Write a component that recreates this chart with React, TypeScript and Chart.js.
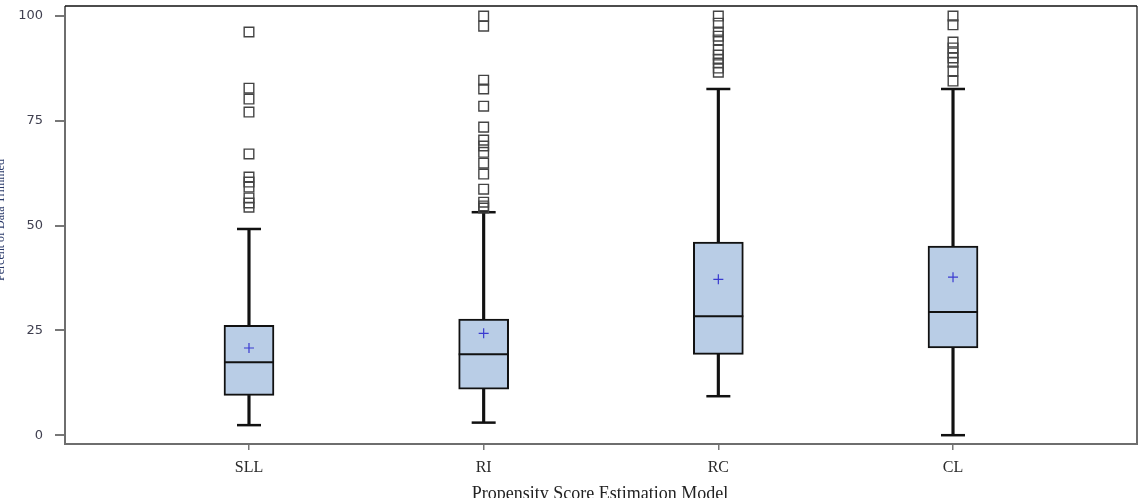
import React, { useEffect, useRef } from "react";
import { Chart, registerables } from "chart.js";

Chart.register(...registerables);

const categories = ["SLL", "RI", "RC", "CL"];
const q1 = [9.5, 11.0, 19.3, 20.8];
const medians = [17.4, 19.3, 28.4, 29.4];
const q3 = [26.2, 27.7, 46.1, 45.1];
const whiskerLow = [2.4, 3.0, 9.3, 0];
const whiskerHigh = [49.2, 53.2, 82.6, 82.6];
const means = [20.8, 24.3, 37.2, 37.7];
const outliersSLL = [96.2, 82.8, 80.2, 77.1, 67.1, 61.6, 60.4, 59.2, 56.6, 55.4, 54.4];
const outliersRI = [100, 97.6, 84.7, 82.6, 78.5, 73.5, 70.4, 69, 67.5, 64.9, 62.3, 58.7, 55.6, 54.7, 54.2];
const outliersRC = [100, 98.3, 96.2, 95.2, 94.3, 91.9, 90.7, 89.7, 88.8, 87.6, 86.6];
const outliersCL = [100, 97.9, 93.8, 92.4, 91.2, 90, 89, 86.9, 84.5];
const yTicks = [0, 25, 50, 75, 100];
const xTitle = "Propensity Score Estimation Model";
const yTitle = "Percent of Data Trimmed";

const outlierGroups = [outliersSLL, outliersRI, outliersRC, outliersCL];

const framePlugin = {
  id: "frame",
  afterDraw(chart: any) {
    const { ctx, chartArea: a } = chart;
    ctx.save();
    ctx.lineWidth = 2;
    ctx.strokeStyle = "#6e6e6e";
    ctx.beginPath();
    ctx.moveTo(a.left, a.top);
    ctx.lineTo(a.left, a.bottom);
    ctx.lineTo(a.right, a.bottom);
    ctx.lineTo(a.right, a.top);
    ctx.stroke();
    ctx.strokeStyle = "#111";
    ctx.lineWidth = 1.5;
    ctx.beginPath();
    ctx.moveTo(a.left, a.top);
    ctx.lineTo(a.right, a.top);
    ctx.stroke();
    // axis titles
    ctx.fillStyle = "#222";
    ctx.font = "18px 'Liberation Serif'";
    ctx.textAlign = "center";
    ctx.textBaseline = "top";
    ctx.fillText(xTitle, 600, 485);
    ctx.save();
    ctx.translate(1, 220);
    ctx.rotate(-Math.PI / 2);
    ctx.fillStyle = "#2a3a6a";
    ctx.font = "12px 'Liberation Serif'";
    ctx.textBaseline = "middle";
    ctx.fillText(yTitle, 0, 0);
    ctx.restore();
    ctx.restore();
  },
};

export default function App() {
  const ref = useRef<HTMLCanvasElement>(null);
  useEffect(() => {
    if (!ref.current) return;
    const idx = categories.map((_, i) => i);
    const outlierPts: any[] = [];
    outlierGroups.forEach((g, i) => g.forEach((v) => outlierPts.push({ x: i, y: v })));
    const chart = new Chart(ref.current, {
      type: "bar",
      data: {
        datasets: [
          {
            type: "bar",
            data: idx.map((i) => ({ x: i, y: [q3[i], whiskerHigh[i]] })),
            backgroundColor: "#111",
            borderWidth: 0,
            barThickness: 2.5,
            grouped: false,
            order: 5,
          } as any,
          {
            type: "bar",
            data: idx.map((i) => ({ x: i, y: [whiskerLow[i], q1[i]] })),
            backgroundColor: "#111",
            borderWidth: 0,
            barThickness: 2.5,
            grouped: false,
            order: 5,
          } as any,
          {
            type: "bar",
            data: idx.map((i) => ({ x: i, y: [q1[i], q3[i]] })),
            backgroundColor: "rgb(185,205,230)",
            borderColor: "#111",
            borderWidth: 2,
            borderSkipped: false,
            barThickness: 50,
            grouped: false,
            order: 4,
          } as any,
          {
            type: "scatter",
            data: idx.map((i) => ({ x: i, y: medians[i] })),
            pointStyle: "line",
            radius: 25,
            borderColor: "#111",
            borderWidth: 2,
            order: 3,
          } as any,
          {
            type: "scatter",
            data: idx.flatMap((i) => [
              { x: i, y: whiskerLow[i] },
              { x: i, y: whiskerHigh[i] },
            ]),
            pointStyle: "line",
            radius: 12,
            borderColor: "#111",
            borderWidth: 2.5,
            order: 3,
          } as any,
          {
            type: "scatter",
            data: idx.map((i) => ({ x: i, y: means[i] })),
            pointStyle: "cross",
            radius: 5,
            borderColor: "#3a3ad0",
            borderWidth: 1.2,
            order: 2,
          } as any,
          {
            type: "scatter",
            data: outlierPts,
            pointStyle: "rect",
            radius: 6.8,
            borderColor: "#444",
            backgroundColor: "rgba(0,0,0,0)",
            borderWidth: 1.4,
            order: 1,
          } as any,
        ],
      },
      options: {
        animation: false,
        responsive: false,
        events: [],
        layout: { autoPadding: false, padding: { top: 6, right: 3, left: 0, bottom: 0 } },
        plugins: { legend: { display: false }, tooltip: { enabled: false } },
        scales: {
          x: {
            type: "linear",
            min: -0.784,
            max: 3.784,
            offset: false,
            border: { display: false },
            grid: {
              offset: false,
              drawOnChartArea: false,
              drawTicks: true,
              tickLength: 6,
              color: "#777",
              lineWidth: 1.5,
            },
            afterBuildTicks: (s: any) => {
              s.ticks = idx.map((v) => ({ value: v }));
            },
            afterFit: (s: any) => {
              s.height = 54;
              s.paddingLeft = 0;
              s.paddingRight = 0;
              s.paddingTop = 0;
              s.paddingBottom = 0;
            },
            ticks: {
              autoSkip: false,
              maxRotation: 0,
              padding: 8,
              color: "#2a2a2a",
              font: { family: "'Liberation Serif'", size: 16 },
              callback: (v: any) => categories[v as number] ?? "",
            },
          },
          y: {
            type: "linear",
            min: -2.1,
            max: 102.4,
            border: { display: false },
            grid: {
              drawOnChartArea: false,
              drawTicks: true,
              tickLength: 10,
              color: "#777",
              lineWidth: 2,
            },
            afterBuildTicks: (s: any) => {
              s.ticks = yTicks.map((v) => ({ value: v }));
            },
            afterFit: (s: any) => {
              s.width = 65;
              s.paddingLeft = 0;
              s.paddingRight = 0;
              s.paddingTop = 0;
              s.paddingBottom = 0;
            },
            ticks: {
              padding: 12,
              color: "#404050",
              font: { family: "'DejaVu Sans'", size: 13 },
            },
          },
        },
      },
      plugins: [framePlugin],
    });
    return () => chart.destroy();
  }, []);
  return (
    <div style={{ position: "fixed", left: 0, top: 0, width: 1140, height: 498 }}>
      <canvas ref={ref} width={1140} height={498} style={{ width: 1140, height: 498 }} />
    </div>
  );
}
